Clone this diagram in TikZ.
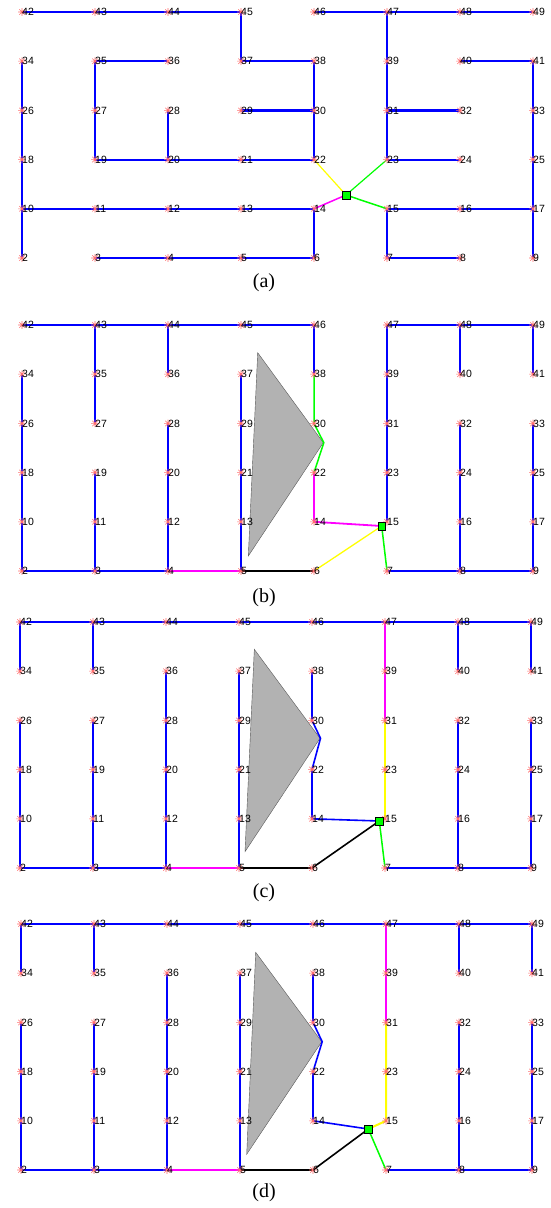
\documentclass[tikz,border=0pt]{standalone}
\usepackage{fontspec}
\setmainfont{Liberation Serif}
\newfontfamily\numfont{Liberation Sans}
\usetikzlibrary{calc}
\definecolor{pblue}{RGB}{0,0,255}
\definecolor{pmag}{RGB}{255,0,255}
\definecolor{pyel}{RGB}{255,255,0}
\definecolor{pgreen}{RGB}{0,255,0}
\definecolor{pstar}{RGB}{255,110,110}
\definecolor{pgray}{RGB}{178,178,178}

\begin{document}
\begin{tikzpicture}[x=1pt,y=-1pt,
    edge/.style={pblue, line width=2.2pt},
    link/.style={line width=1.5pt},
    obst/.style={fill=pgray, draw=black!65, line width=0.4pt},
    starmark/.style={pstar, line width=0.55pt},
    robot/.style={draw=black, fill=pgreen, minimum size=7.5pt, inner sep=0pt, line width=0.5pt},
    num/.style={anchor=west, inner sep=0pt, font=\numfont\fontsize{10.5}{11}\selectfont},
    sublabel/.style={font=\fontsize{20}{22}\selectfont}]
    \useasboundingbox (0,0) rectangle (551,1208);

    % grid points 2..49 of the four panels
    \foreach \P/\X/\Y in {a/22/12, b/22/325, c/20/622, d/21/924} {
        \foreach \k in {2,...,49} {
            \pgfmathtruncatemacro\col{mod(\k-2,8)}
            \pgfmathtruncatemacro\row{5-int((\k-2)/8)}
            \coordinate (\P\k) at (\X+73*\col, \Y+49.2*\row);
        }
    }
    % robot positions
    \coordinate (a1) at (346,195);
    \coordinate (b1) at (381.7,526);
    \coordinate (c1) at (379.3,821);
    \coordinate (d1) at (368.3,1129);
    % detour round the obstacle
    \coordinate (bbend) at (323.8,442.7);
    \coordinate (cbend) at (320.5,738.3);
    \coordinate (dbend) at (322.2,1041.7);

    % obstacles
    \filldraw[obst] (257.7,352.7) -- (323.3,442.7) -- (248.3,556) -- cycle;
    \filldraw[obst] (254.3,649.3) -- (320,738.3) -- (245,851.7) -- cycle;
    \filldraw[obst] (255.7,952.3) -- (321.7,1041.7) -- (246.7,1154.3) -- cycle;

    % (a)
    \draw[edge] (a42) -- (a43) -- (a44) -- (a45) -- (a37) -- (a38) -- (a30) -- (a22);
    \draw[edge] (a29) -- (a30);
    \draw[edge] (a19) -- (a20) -- (a21) -- (a22);
    \draw[edge] (a36) -- (a35) -- (a27) -- (a19);
    \draw[edge] (a28) -- (a20);
    \draw[edge] (a34) -- (a26) -- (a18) -- (a10) -- (a2);
    \draw[edge] (a10) -- (a11) -- (a12) -- (a13) -- (a14) -- (a6);
    \draw[edge] (a3) -- (a4) -- (a5) -- (a6);
    \draw[edge] (a46) -- (a47) -- (a48) -- (a49);
    \draw[edge] (a47) -- (a39) -- (a31) -- (a23) -- (a24);
    \draw[edge] (a31) -- (a32);
    \draw[edge] (a40) -- (a41) -- (a33) -- (a25) -- (a17) -- (a9);
    \draw[edge] (a15) -- (a16) -- (a17);
    \draw[edge] (a8) -- (a7) -- (a15);
    \draw[link, pyel, line width=1.2pt] (a1) -- (a22);
    \draw[link, pgreen, line width=1.2pt] (a1) -- (a23);
    \draw[link, pmag] (a1) -- (a14);
    \draw[link, pgreen] (a1) -- (a15);

    % (b)
    \draw[edge] (b42) -- (b43) -- (b44) -- (b45) -- (b46) -- (b38);
    \draw[edge] (b43) -- (b35) -- (b27);
    \draw[edge] (b44) -- (b36);
    \draw[edge] (b34) -- (b26) -- (b18) -- (b10) -- (b2) -- (b3) -- (b4);
    \draw[edge] (b19) -- (b11) -- (b3);
    \draw[edge] (b28) -- (b20) -- (b12) -- (b4);
    \draw[edge] (b37) -- (b29) -- (b21) -- (b13) -- (b5);
    \draw[edge] (b41) -- (b49) -- (b48) -- (b47) -- (b39) -- (b31) -- (b23) -- (b15);
    \draw[edge] (b48) -- (b40);
    \draw[edge] (b32) -- (b24) -- (b16) -- (b8);
    \draw[edge] (b33) -- (b25) -- (b17) -- (b9) -- (b8) -- (b7);
    \draw[link, pgreen] (b38) -- (b30) -- (bbend) -- (b22);
    \draw[link, pmag, line width=1.8pt] (b22) -- (b14) -- (b1);
    \draw[link, pyel, line width=1.3pt] (b1) -- (b6);
    \draw[link, pgreen] (b1) -- (b7);
    \draw[link, black, line width=1.8pt] (b5) -- (b6);
    \draw[link, pmag, line width=2pt] (b4) -- (b5);

    % (c) and (d) share the tree
    \foreach \P in {c,d} {
        \draw[edge] (\P42) -- (\P43) -- (\P44) -- (\P45) -- (\P46) -- (\P47) -- (\P48) -- (\P49);
        \draw[edge] (\P42) -- (\P34);
        \draw[edge] (\P43) -- (\P35);
        \draw[edge] (\P48) -- (\P40);
        \draw[edge] (\P49) -- (\P41);
        \draw[edge] (\P26) -- (\P18) -- (\P10) -- (\P2) -- (\P3) -- (\P4);
        \draw[edge] (\P27) -- (\P19) -- (\P11) -- (\P3);
        \draw[edge] (\P36) -- (\P28) -- (\P20) -- (\P12) -- (\P4);
        \draw[edge] (\P37) -- (\P29) -- (\P21) -- (\P13) -- (\P5);
        \draw[edge, line width=1.6pt] (\P38) -- (\P30) -- (\P bend) -- (\P22) -- (\P14) -- (\P1);
        \draw[edge] (\P32) -- (\P24) -- (\P16) -- (\P8);
        \draw[edge] (\P33) -- (\P25) -- (\P17) -- (\P9) -- (\P8) -- (\P7);
        \draw[link, pmag, line width=2pt] (\P47) -- (\P39) -- (\P31);
        \draw[link, pmag, line width=2pt] (\P4) -- (\P5);
        \draw[link, black, line width=1.6pt] (\P5) -- (\P6) -- (\P1);
        \draw[link, pgreen] (\P1) -- (\P7);
    }
    \draw[link, pyel, line width=2pt] (c31) -- (c23) -- (c15);
    \draw[link, pyel, line width=2pt] (d31) -- (d23) -- (d15) -- (d1);

    % markers and numbers
    \foreach \P in {a,b,c,d} {
        \foreach \k in {2,...,49} {
            \draw[starmark] (\P\k) +(-3.8,0) -- +(3.8,0) +(0,-3.8) -- +(0,3.8)
                +(-2.7,-2.7) -- +(2.7,2.7) +(-2.7,2.7) -- +(2.7,-2.7);
            \node[num] (\P n\k) at (\P\k) {\k};
        }
        \node[robot] (\P sq) at (\P1) {};
    }

    \node[sublabel] (capa) at (264,283) {(a)};
    \node[sublabel] (capb) at (264,598) {(b)};
    \node[sublabel] (capc) at (264,893) {(c)};
    \node[sublabel] (capd) at (264,1193) {(d)};
\end{tikzpicture}
\end{document}
